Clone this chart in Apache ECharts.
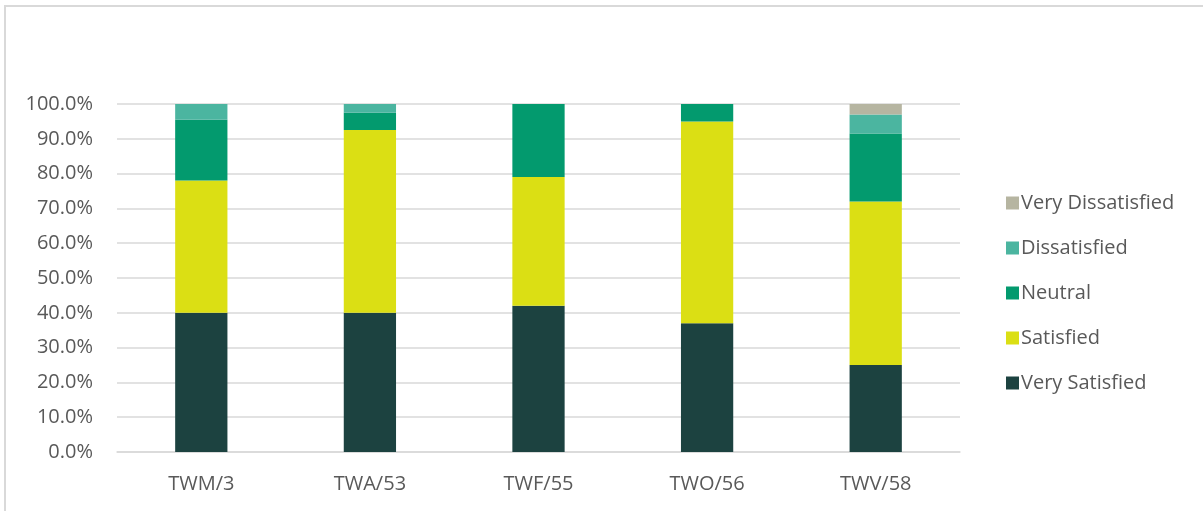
<!DOCTYPE html>
<html>
<head>
<meta charset="utf-8">
<script src="https://cdn.jsdelivr.net/npm/echarts@6/dist/echarts.min.js"></script>
<style>
  html, body { margin: 0; padding: 0; background: #fff; }
  #frame { position: absolute; left: 4px; top: 5px; width: 1199px; height: 506px;
           border-left: 2px solid #d9d9d9; border-top: 2px solid #d9d9d9; }
  #main { position: absolute; left: 0; top: 0; width: 1203px; height: 511px; }
</style>
</head>
<body>
<div id="frame"></div>
<div id="main"></div>
<script>
// categories (x axis)
const categories = ["TWM/3", "TWA/53", "TWF/55", "TWO/56", "TWV/58"];
// percentage shares per category
const verySatisfied = [40, 40, 42, 37, 25];
const satisfied = [38, 52.5, 37, 58, 47];
const neutral = [17.5, 5, 21, 5, 19.5];
const dissatisfied = [4.5, 2.5, 0, 0, 5.5];
const veryDissatisfied = [0, 0, 0, 0, 3];

const seriesNames = ["Very Satisfied", "Satisfied", "Neutral", "Dissatisfied", "Very Dissatisfied"];
const seriesData = [verySatisfied, satisfied, neutral, dissatisfied, veryDissatisfied];
const colors = ["#1c4240", "#dbdf14", "#039a6e", "#4bb5a0", "#b6b5a1"];

const font = "'Open Sans', 'Liberation Sans', sans-serif";
const chart = echarts.init(document.getElementById("main"));

chart.setOption({
  animation: false,
  color: colors,
  grid: { left: 117, right: 243, top: 104, bottom: 59 },
  legend: {
    orient: "vertical",
    left: 1001,
    top: 188,
    itemWidth: 13,
    itemHeight: 13,
    itemGap: 25,
    icon: "rect",
    data: seriesNames.slice().reverse(),
    textStyle: { color: "#595959", fontSize: 20, fontFamily: font, padding: [0, 0, 0, -3] }
  },
  xAxis: {
    type: "category",
    data: categories,
    axisLine: { lineStyle: { color: "#d9d9d9", width: 1.5 } },
    axisTick: { show: false },
    axisLabel: { color: "#595959", fontSize: 20, fontFamily: font, margin: 22 }
  },
  yAxis: {
    type: "value",
    min: 0,
    max: 100,
    interval: 10,
    axisLine: { show: false },
    axisTick: { show: false },
    splitLine: { lineStyle: { color: "#d9d9d9", width: 1.5 } },
    axisLabel: {
      color: "#595959", fontSize: 20, fontFamily: font, margin: 24,
      formatter: v => v.toFixed(1) + "%"
    }
  },
  series: seriesNames.map((name, i) => ({
    name: name,
    type: "bar",
    stack: "total",
    barWidth: "31%",
    data: seriesData[i]
  }))
});
</script>
</body>
</html>
